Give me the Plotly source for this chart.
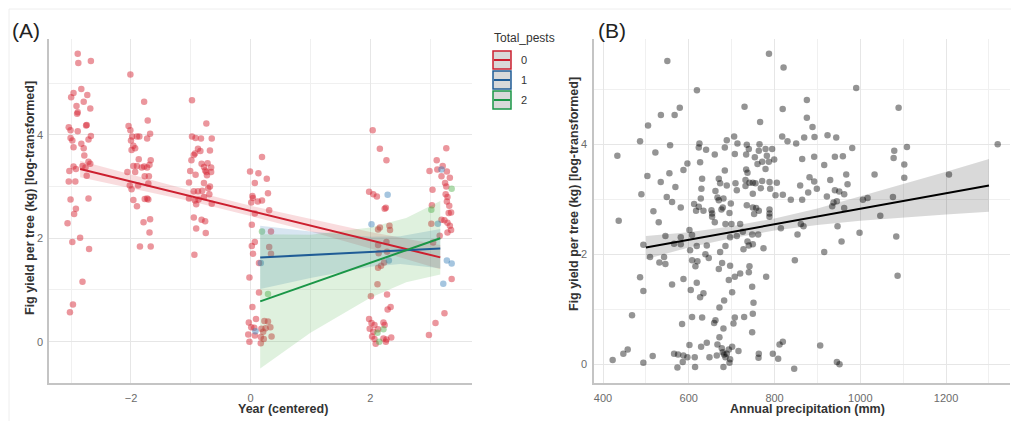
import plotly.graph_objects as go

W, H = 1011, 421

# ---------------- Panel A data (Year centered vs log yield), by Total_pests ----------------
pests0_x = [-2.89, -2.88, -2.67, -2.96, -3.00, -2.83, -2.73, -2.79, -2.91, -2.68, -2.89, -2.90, -3.04, -3.01,
            -2.89, -2.74, -2.75, -2.67, -2.71, -3.01, -2.98, -2.96, -2.83, -2.79, -2.78, -2.81, -2.71, -2.68,
            -2.76, -2.96, -2.92, -3.03, -2.74, -3.04, -2.93, -3.01, -2.71, -2.92, -2.95, -3.06, -2.98, -2.85,
            -2.70, -2.81, -2.97, -3.02,
            -2.01, -1.78, -1.72, -2.04, -2.01, -1.98, -1.90, -1.86, -1.68, -1.73, -2.00, -1.96, -1.99, -1.93,
            -1.87, -1.67, -1.96, -1.90, -1.82, -1.78, -1.73, -1.69, -2.06, -1.93, -1.77, -1.70, -2.02, -1.99,
            -1.88, -1.71, -1.77, -1.73, -1.71, -1.96, -1.90, -1.68, -1.79, -1.69, -1.85, -1.67,
            -0.98, -0.74, -0.98, -0.92, -0.83, -0.65, -0.88, -0.84, -0.93, -0.95, -0.68, -0.99, -0.82, -0.72,
            -0.78, -0.66, -0.76, -0.74, -0.73, -0.92, -1.01, -0.66, -0.78, -0.68, -0.71, -1.03, -0.95, -0.88,
            -0.81, -0.69, -1.03, -0.93, -0.87, -0.91, -0.78, -0.65, -0.95, -0.82, -0.76, -0.91, -0.75, -0.94,
            0.19, -0.01, 0.13, 0.07, 0.27, 0.29, 0.03, 0.04, 0.01, 0.12, 0.19, 0.31, 0.07, 0.02, 0.34, 0.07,
            0.02, 0.31, 0.34, 0.04, 0.14, -0.02, 0.14, 0.03, 0.09, -0.03, 0.23, 0.29, 0.01, 0.06, 0.18, 0.25,
            0.33, 0.21, -0.04, 0.07, 0.17, 0.35, 0.22, -0.02, 0.17,
            2.04, 2.16, 2.27, 1.98, 2.05, 2.11, 2.26, 2.24, 2.16, 2.13, 2.32, 2.33, 2.13, 2.27, 2.14, 2.28,
            2.13, 2.18, 2.23, 2.12, 2.01, 2.28, 2.34, 2.29, 1.98, 2.02, 2.07, 2.22, 1.99, 2.05, 2.13, 2.24,
            2.03, 2.07, 2.22, 2.27, 2.35, 2.09, 2.26,
            3.27, 3.11, 2.99, 3.12, 3.21, 3.28, 3.19, 3.33, 3.25, 3.27, 3.04, 3.26, 3.29, 3.28, 3.32, 3.35,
            3.31, 3.03, 3.19, 3.24, 3.29, 3.33, 3.35, 3.29, 3.02, 3.16, 3.05, 3.36, 3.24, 3.09, 2.98]
pests0_y = [5.57, 5.39, 5.43, 4.81, 4.73, 4.89, 4.77, 4.64, 4.56, 4.51, 4.44, 4.41, 4.15, 4.09, 4.07, 4.19,
            4.18, 3.98, 3.91, 3.94, 3.89, 3.76, 3.83, 3.74, 3.60, 3.40, 3.48, 3.44, 3.37, 3.39, 3.34, 3.30,
            3.21, 3.10, 3.10, 2.75, 2.77, 2.57, 2.47, 2.29, 1.93, 2.01, 1.79, 1.16, 0.72, 0.57,
            5.17, 4.64, 4.28, 4.17, 4.09, 3.97, 3.97, 3.97, 4.02, 3.93, 3.89, 3.79, 3.71, 3.74, 3.53, 3.51,
            3.40, 3.40, 3.37, 3.39, 3.37, 3.42, 3.28, 3.28, 3.20, 3.20, 3.02, 2.95, 3.02, 3.06, 2.76, 2.77,
            2.75, 2.74, 2.62, 2.37, 2.31, 2.11, 1.84, 1.84,
            4.67, 4.22, 3.97, 3.94, 3.93, 3.93, 3.73, 3.69, 3.64, 3.61, 3.70, 3.51, 3.44, 3.45, 3.38, 3.37,
            3.31, 3.28, 3.22, 3.23, 3.30, 3.28, 3.07, 3.00, 2.97, 3.08, 2.91, 2.91, 2.92, 2.85, 2.77, 2.73,
            2.75, 2.66, 2.80, 2.67, 2.40, 2.36, 2.33, 2.19, 2.10, 1.68,
            3.57, 3.29, 3.26, 3.07, 3.15, 2.87, 2.82, 2.78, 2.69, 2.71, 2.73, 2.54, 2.48, 2.26, 2.13, 1.93,
            1.85, 1.83, 1.70, 1.70, 1.52, 1.24, 0.95, 0.67, 0.44, 0.37, 0.40, 0.39, 0.28, 0.27, 0.25, 0.26,
            0.28, 0.19, 0.14, 0.12, 0.09, 0.10, 0.05, 0.00, -0.03,
            4.09, 3.73, 3.51, 2.90, 2.85, 2.81, 2.59, 2.57, 2.21, 2.17, 2.24, 2.16, 1.87, 1.93, 1.71, 1.74,
            1.43, 1.47, 1.53, 1.11, 0.88, 0.91, 0.67, 0.62, 0.44, 0.36, 0.32, 0.37, 0.25, 0.19, 0.24, 0.32,
            0.10, 0.05, 0.06, 0.04, 0.08, -0.04, 0.00,
            3.74, 3.51, 3.30, 3.33, 3.40, 3.29, 3.20, 3.17, 3.07, 3.00, 2.94, 2.85, 2.80, 2.71, 2.63, 2.50,
            2.49, 2.64, 2.36, 2.35, 2.30, 2.24, 2.16, 2.11, 2.28, 2.05, 1.92, 1.21, 0.55, 0.36, 0.13]
pests1_x = [0.17, 0.08, 2.02, 2.29, 2.31, 3.19, 3.13, 3.28, 3.36, 3.22]
pests1_y = [1.52, 0.20, 2.27, 2.84, 1.57, 3.33, 2.28, 1.57, 1.51, 1.12]
pests2_x = [0.19, 0.29, 2.12, 2.15, 2.22, 3.36, 3.02]
pests2_y = [2.13, 0.92, 0.17, 0.00, 0.24, 2.96, 2.55]

# linear fits (estimated from the figure): line and 95% band
fit0_x = [-2.85, -2.0, -1.0, 0.0, 1.0, 2.0, 3.17]
fit0_y = [3.34, 3.10, 2.82, 2.53, 2.25, 1.96, 1.63]
fit0_lo = [3.18, 2.97, 2.715, 2.43, 2.13, 1.80, 1.40]
fit0_hi = [3.50, 3.23, 2.925, 2.63, 2.37, 2.12, 1.87]
fit1_x = [0.16, 1.0, 2.0, 2.5, 3.17]
fit1_y = [1.63, 1.68, 1.74, 1.77, 1.80]
fit1_lo = [1.02, 1.23, 1.45, 1.50, 1.42]
fit1_hi = [2.24, 2.13, 2.03, 2.04, 2.18]
fit2_x = [0.16, 1.0, 2.0, 2.6, 3.17]
fit2_y = [0.78, 1.12, 1.53, 1.77, 2.00]
fit2_lo = [-0.52, 0.17, 0.85, 1.15, 1.30]
fit2_hi = [2.08, 2.07, 2.21, 2.39, 2.72]

pest_labels = ["0", "1", "2"]

# ---------------- Panel B data (Annual precipitation vs log yield) ----------------
precip = [505.0, 766.4, 486.4, 556.4, 624.8, 623.3, 640.4, 688.6, 705.8, 713.5, 735.3, 740.0, 764.9, 778.9,
          794.4, 817.8, 830.2, 433.5, 522.1, 660.6, 684.0, 707.3, 733.8, 754.0, 763.3, 782.0, 799.1, 771.1,
          760.2, 786.7, 778.9, 596.8, 626.4, 587.5, 554.8, 503.5, 534.6, 568.8, 684.0, 733.8, 736.9, 670.0,
          631.1, 629.5, 662.2, 673.1, 688.6, 708.9, 712.0, 732.2, 732.2, 741.5, 749.3, 755.5, 749.3, 771.1,
          788.2, 768.0, 789.8, 805.3, 802.2, 819.3, 489.5, 548.6, 561.0, 581.3, 612.4, 628.0, 623.3, 617.0,
          634.2, 652.9, 654.4, 666.9, 670.0, 680.9, 698.0, 679.3, 694.9, 676.2, 654.4, 660.6, 685.5, 699.5,
          719.8, 735.3, 749.3, 757.1, 763.3, 752.4, 788.2, 788.2, 788.2, 814.7, 517.5, 529.9, 436.6, 601.5,
          607.7, 581.3, 545.5, 565.7, 581.3, 494.1, 509.7, 542.4, 531.5, 545.5, 603.0, 618.6, 642.0, 638.8,
          646.6, 607.7, 620.2, 615.5, 673.1, 685.5, 696.4, 712.0, 726.0, 747.8, 761.8, 736.9, 740.0, 749.3,
          727.5, 774.2, 670.0, 696.4, 677.7, 707.3, 693.3, 719.8, 740.0, 741.5, 747.8, 780.4, 486.4, 494.1,
          561.0, 587.5, 604.6, 618.6, 626.4, 634.2, 682.4, 701.1, 750.9, 671.5, 607.7, 631.1, 662.2, 707.3,
          729.1, 749.3, 467.7,
          422.5, 447.4, 457.6, 494.1, 515.9, 565.7, 575.0, 587.5, 596.8, 613.9, 573.5, 585.9, 601.5, 614.7,
          628.7, 642.0, 648.2, 665.3, 666.8, 671.5, 677.0, 679.3, 682.4, 688.6, 685.5, 693.3, 696.4, 694.9,
          680.8, 701.1, 715.9, 763.3, 762.6, 796.0, 808.4, 811.6, 819.3, 845.8, 584.4, 659.1, 680.8, 704.2,
          747.8,
          853.5, 847.3, 867.5, 861.3, 946.9, 915.8, 956.2, 998.2, 1046.5, 1083.8, 1086.9, 906.4, 945.3, 951.5,
          990.4, 875.3, 1089.3, 875.3, 888.5, 869.1, 893.2, 923.5, 943.8, 850.4, 981.1, 1108.7, 1079.1, 1077.6,
          1102.5, 1102.5, 1320.3, 864.4, 892.4, 940.7, 959.3, 915.8, 967.1, 1033.2, 1206.7, 929.8, 881.5,
          892.4, 859.7, 898.6, 878.4, 940.7, 950.8, 962.4, 970.2, 922.0, 837.9, 864.4, 937.5, 945.3, 934.4,
          1006.0, 1016.9, 1076.0, 962.4,
          550.0, 787.0, 821.0, 619.0, 579.0, 567.0, 535.0, 730.0, 819.0]
yield_b = [4.34, 4.40, 4.05, 3.98, 4.01, 3.94, 3.90, 4.07, 4.14, 4.01, 3.99, 3.91, 4.00, 3.91,
           3.91, 4.14, 4.05, 3.79, 3.85, 3.81, 3.94, 3.82, 3.81, 3.76, 3.88, 3.79, 3.72, 3.68,
           3.64, 3.68, 3.55, 3.65, 3.67, 3.53, 3.47, 3.42, 3.31, 3.22, 3.52, 3.54, 3.48, 3.37,
           3.37, 3.19, 3.15, 3.29, 3.25, 3.29, 3.16, 3.35, 3.24, 3.30, 3.30, 3.29, 3.10, 3.33,
           3.31, 3.20, 3.19, 3.30, 3.07, 3.08, 3.09, 3.04, 2.95, 2.85, 2.91, 3.01, 2.86, 2.79,
           2.79, 2.80, 2.74, 3.03, 2.98, 3.01, 2.92, 2.85, 2.75, 2.81, 2.68, 2.58, 2.55, 2.55,
           2.55, 2.89, 2.85, 2.84, 2.79, 2.73, 2.81, 2.74, 2.68, 2.47, 2.78, 2.58, 2.61, 2.44,
           2.35, 2.31, 2.33, 2.19, 2.18, 2.17, 1.95, 1.95, 1.85, 1.82, 2.07, 2.15, 2.16, 2.00,
           1.93, 1.89, 1.87, 1.78, 2.04, 2.15, 2.31, 2.33, 2.41, 2.36, 2.36, 2.23, 2.16, 2.18,
           2.09, 2.11, 1.73, 1.79, 1.84, 1.59, 1.53, 1.65, 1.67, 1.78, 1.41, 1.59, 1.58, 1.33,
           1.45, 1.55, 1.35, 1.48, 1.22, 1.29, 1.16, 1.31, 1.12, 1.03, 0.86, 0.85, 0.80, 0.85,
           0.86, 0.92, 0.89,
           0.08, 0.19, 0.27, 0.03, 0.15, 0.19, 0.18, 0.16, 0.13, 0.13, -0.06, 0.04, 0.35, -0.05,
           0.32, 0.39, 0.13, 0.16, 0.36, 0.49, 0.29, 0.22, 0.18, 0.19, 0.13, 0.27, 0.09, 0.03,
           -0.05, 0.32, 0.24, 0.19, 0.12, 0.19, 0.10, 0.36, 0.41, -0.08, 0.73, 0.75, 0.65, 0.74,
           0.58,
           2.36, 1.89, 2.51, 2.55, 2.51, 2.04, 2.23, 2.39, 2.70, 2.32, 1.61, 0.34, 0.04, 0.00,
           5.02, 4.80, 4.66, 4.48, 4.31, 4.12, 4.13, 4.16, 4.12, 4.01, 3.93, 3.95, 3.88, 3.75,
           3.63, 3.39, 4.00, 3.73, 3.77, 3.77, 3.78, 3.62, 3.45, 3.45, 3.45, 3.35, 3.40,
           3.32, 3.25, 3.19, 3.12, 3.16, 3.14, 3.09, 3.27, 3.05, 2.99, 2.99, 2.94, 2.96, 2.87,
           2.99, 3.02, 3.04, 2.84,
           5.51, 5.64, 5.39, 4.98, 4.66, 4.53, 4.53, 4.68, 4.64]

fitb_x = [500, 600, 700, 800, 900, 1000, 1100, 1200, 1300]
fitb_y = [2.12, 2.26, 2.40, 2.54, 2.68, 2.83, 2.97, 3.11, 3.25]
fitb_lo = [1.91, 2.12, 2.29, 2.43, 2.53, 2.61, 2.67, 2.72, 2.77]
fitb_hi = [2.33, 2.40, 2.51, 2.65, 2.83, 3.05, 3.27, 3.50, 3.73]

# ---------------- styling ----------------
FONT = "Liberation Sans, Arial, sans-serif"
line_cols = ["#CC1F2F", "#1F5C96", "#1A9647"]
pt_cols = ["rgba(214,36,50,0.48)", "rgba(55,126,184,0.45)", "rgba(77,175,74,0.45)"]
band_cols = ["rgba(215,40,50,0.16)", "rgba(55,126,184,0.20)", "rgba(77,175,74,0.18)"]


def px(x):
    return x / W


def py(y):
    return 1 - y / H


fig = go.Figure()

groups = [(pests0_x, pests0_y), (pests1_x, pests1_y), (pests2_x, pests2_y)]
for i, (gx, gy) in enumerate(groups):
    fig.add_trace(go.Scatter(x=gx, y=gy, mode="markers", xaxis="x", yaxis="y", showlegend=False,
                             marker=dict(size=6.5, color=pt_cols[i], line=dict(width=0)), hoverinfo="skip"))

fits = [(fit0_x, fit0_y, fit0_lo, fit0_hi), (fit1_x, fit1_y, fit1_lo, fit1_hi), (fit2_x, fit2_y, fit2_lo, fit2_hi)]
for i, (fx, fy, lo, hi) in enumerate(fits):
    fig.add_trace(go.Scatter(x=list(fx) + list(fx)[::-1], y=list(hi) + list(lo)[::-1], fill="toself",
                             fillcolor=band_cols[i], line=dict(width=0), mode="lines", xaxis="x", yaxis="y",
                             showlegend=False, hoverinfo="skip"))
for i, (fx, fy, lo, hi) in enumerate(fits):
    fig.add_trace(go.Scatter(x=fx, y=fy, mode="lines", line=dict(color=line_cols[i], width=2),
                             xaxis="x", yaxis="y", showlegend=False, hoverinfo="skip"))

fig.add_trace(go.Scatter(x=precip, y=yield_b, mode="markers", xaxis="x2", yaxis="y2", showlegend=False,
                         marker=dict(size=6.5, color="rgba(0,0,0,0.42)", line=dict(width=0)), hoverinfo="skip"))
fig.add_trace(go.Scatter(x=fitb_x + fitb_x[::-1], y=fitb_hi + fitb_lo[::-1], fill="toself",
                         fillcolor="rgba(0,0,0,0.15)", line=dict(width=0), mode="lines", xaxis="x2", yaxis="y2",
                         showlegend=False, hoverinfo="skip"))
fig.add_trace(go.Scatter(x=fitb_x, y=fitb_y, mode="lines", line=dict(color="#000000", width=2),
                         xaxis="x2", yaxis="y2", showlegend=False, hoverinfo="skip"))

grid_major = "#e6e6e6"
grid_minor = "#f0f0f0"
axline = "#c4c4c4"
tickfont = dict(family=FONT, size=11, color="#6b6b6b")

common = dict(showgrid=True, gridcolor=grid_major, gridwidth=1, zeroline=False, showline=True,
              linecolor=axline, linewidth=1.5, ticks="", tickfont=tickfont)

fig.update_layout(
    width=W, height=H, margin=dict(l=0, r=0, t=0, b=0),
    paper_bgcolor="white", plot_bgcolor="white", showlegend=False,
    xaxis=dict(domain=[px(49), px(472)], range=[-3.37, 3.70], anchor="y", tickvals=[-2, 0, 2],
               ticklabelstandoff=4,
               minor=dict(dtick=1, tick0=0, showgrid=True, gridcolor=grid_minor, gridwidth=1), **common),
    yaxis=dict(domain=[py(383), py(39)], range=[-0.80, 5.855], anchor="x", tickvals=[0, 2, 4],
               ticklabelstandoff=2,
               minor=dict(dtick=1, tick0=0, showgrid=True, gridcolor=grid_minor, gridwidth=1), **common),
    xaxis2=dict(domain=[px(594), px(1010)], range=[379, 1349], anchor="y2", tickvals=[400, 600, 800, 1000, 1200],
                ticklabelstandoff=4,
                minor=dict(dtick=100, tick0=0, showgrid=True, gridcolor=grid_minor, gridwidth=1), **common),
    yaxis2=dict(domain=[py(383), py(39)], range=[-0.34, 5.91], anchor="x2", tickvals=[0, 2, 4],
                ticklabelstandoff=3,
                minor=dict(dtick=1, tick0=0, showgrid=True, gridcolor=grid_minor, gridwidth=1), **common),
)

title_font = dict(family=FONT, size=12.5, color="#333333")
ann = [
    dict(text="(A)", x=px(10), y=py(30), xanchor="left", yanchor="middle", font=dict(family=FONT, size=21, color="#222")),
    dict(text="(B)", x=px(596), y=py(30), xanchor="left", yanchor="middle", font=dict(family=FONT, size=21, color="#222")),
    dict(text="<b>Fig yield per tree (kg) [log-transformed]</b>", x=px(30), y=py(198), textangle=-90,
         xanchor="center", yanchor="middle", font=title_font),
    dict(text="<b>Fig yield per tree (kg) [log-transformed]</b>", x=px(574), y=py(194), textangle=-90,
         xanchor="center", yanchor="middle", font=title_font),
    dict(text="<b>Year (centered)</b>", x=px(283), y=py(409), xanchor="center", yanchor="middle", font=title_font),
    dict(text="<b>Annual precipitation (mm)</b>", x=px(807), y=py(409), xanchor="center", yanchor="middle",
         font=title_font),
    dict(text="Total_pests", x=px(492), y=py(38), xanchor="left", yanchor="middle",
         font=dict(family=FONT, size=12, color="#333333")),
]
shapes = []
key_tops = [51, 71, 91]
for i, lab in enumerate(pest_labels):
    t = key_tops[i]
    shapes.append(dict(type="rect", xref="paper", yref="paper", x0=px(493), x1=px(511), y0=py(t), y1=py(t + 18),
                       fillcolor="#d9d9d9", line=dict(color=line_cols[i], width=1.5)))
    shapes.append(dict(type="line", xref="paper", yref="paper", x0=px(494), x1=px(510), y0=py(t + 9), y1=py(t + 9),
                       line=dict(color=line_cols[i], width=2)))
    ann.append(dict(text=lab, x=px(519), y=py(t + 9), xanchor="left", yanchor="middle",
                    font=dict(family=FONT, size=11, color="#333333")))
# faint figure frame
shapes.append(dict(type="line", xref="paper", yref="paper", x0=px(9), x1=1, y0=py(9), y1=py(9),
                   line=dict(color="#eeeeee", width=1)))
shapes.append(dict(type="line", xref="paper", yref="paper", x0=px(9), x1=px(9), y0=py(9), y1=0,
                   line=dict(color="#eeeeee", width=1)))
for a in ann:
    a.setdefault("xref", "paper")
    a.setdefault("yref", "paper")
    a.setdefault("showarrow", False)
fig.update_layout(annotations=ann, shapes=shapes)

fig.write_html("out.html", config={"displayModeBar": False},
               post_script="document.body.style.margin='0px';document.body.style.padding='0px';"
                           "document.body.style.overflow='hidden';")
